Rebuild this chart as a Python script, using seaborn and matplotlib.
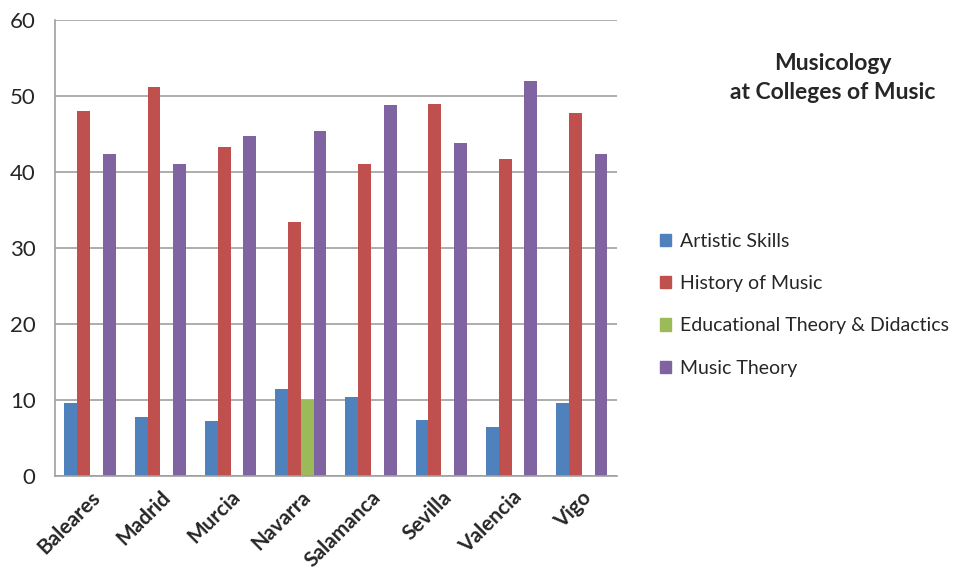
import pandas as pd
import seaborn as sns
import matplotlib.pyplot as plt
import numpy as np

# data
colleges = ["Baleares", "Madrid", "Murcia", "Navarra", "Salamanca", "Sevilla", "Valencia", "Vigo"]
artistic = [9.6, 7.8, 7.3, 11.4, 10.4, 7.4, 6.5, 9.6]
history = [48.0, 51.2, 43.3, 33.4, 41.1, 48.9, 41.7, 47.7]
educational = [0, 0, 0, 10.0, 0, 0, 0, 0]
theory = [42.4, 41.1, 44.7, 45.4, 48.8, 43.8, 52.0, 42.4]

series = ["Artistic Skills", "History of Music", "Educational Theory & Didactics", "Music Theory"]
colors = ["#4F81BD", "#C0504D", "#9BBB59", "#8064A2"]

df = pd.DataFrame({"College": colleges, series[0]: artistic, series[1]: history,
                   series[2]: educational, series[3]: theory})
df = df.melt(id_vars="College", var_name="Area", value_name="Value")

sns.set_style("white")
plt.rcParams["font.family"] = ["Lato", "DejaVu Sans"]

fig = plt.figure(figsize=(9.73, 5.85), dpi=100)
ax = fig.add_axes([0.0565, 0.1863, 0.5775, 0.7795])

sns.barplot(data=df, x="College", y="Value", hue="Area", hue_order=series,
            palette=colors, saturation=1, width=0.73, linewidth=0, ax=ax, legend=False)

ax.set_ylim(0, 60)
ax.set_xlim(-0.5, len(colleges) - 0.5)
ax.set_yticks(range(0, 61, 10))
ax.yaxis.grid(True, color="#A0A0A0", linewidth=1.2)
ax.set_axisbelow(True)
for s in ["top", "right"]:
    ax.spines[s].set_visible(False)
ax.spines["left"].set_color("#A0A0A0")
ax.spines["bottom"].set_color("#A0A0A0")
ax.spines["left"].set_linewidth(1.2)
ax.spines["bottom"].set_linewidth(1.2)

ax.set_xlabel("")
ax.set_ylabel("")
ax.tick_params(axis="y", length=8, color="#A0A0A0", width=1.2, labelsize=16, pad=6)
ax.tick_params(axis="x", which="major", length=0, pad=8)
ax.set_xticks(np.arange(-0.5, len(colleges), 1), minor=True)
ax.tick_params(axis="x", which="minor", length=7, color="#A0A0A0", width=1.2)
ax.set_xticks(range(len(colleges)))
ax.set_xticklabels(colleges, rotation=45, ha="right", rotation_mode="anchor",
                   fontsize=15, fontweight="bold")

fig.text(0.856, 0.867, "Musicology\nat Colleges of Music", ha="center", va="center",
         fontsize=16.5, fontweight="bold", linespacing=1.5)

handles = [plt.Rectangle((0, 0), 1, 1, color=c) for c in colors]
fig.legend(handles, series, loc="upper left", bbox_to_anchor=(0.66, 0.632),
           frameon=False, fontsize=14, handlelength=0.6, handleheight=0.6,
           handletextpad=0.45, labelspacing=1.3)

plt.savefig("out.png", dpi=100)
